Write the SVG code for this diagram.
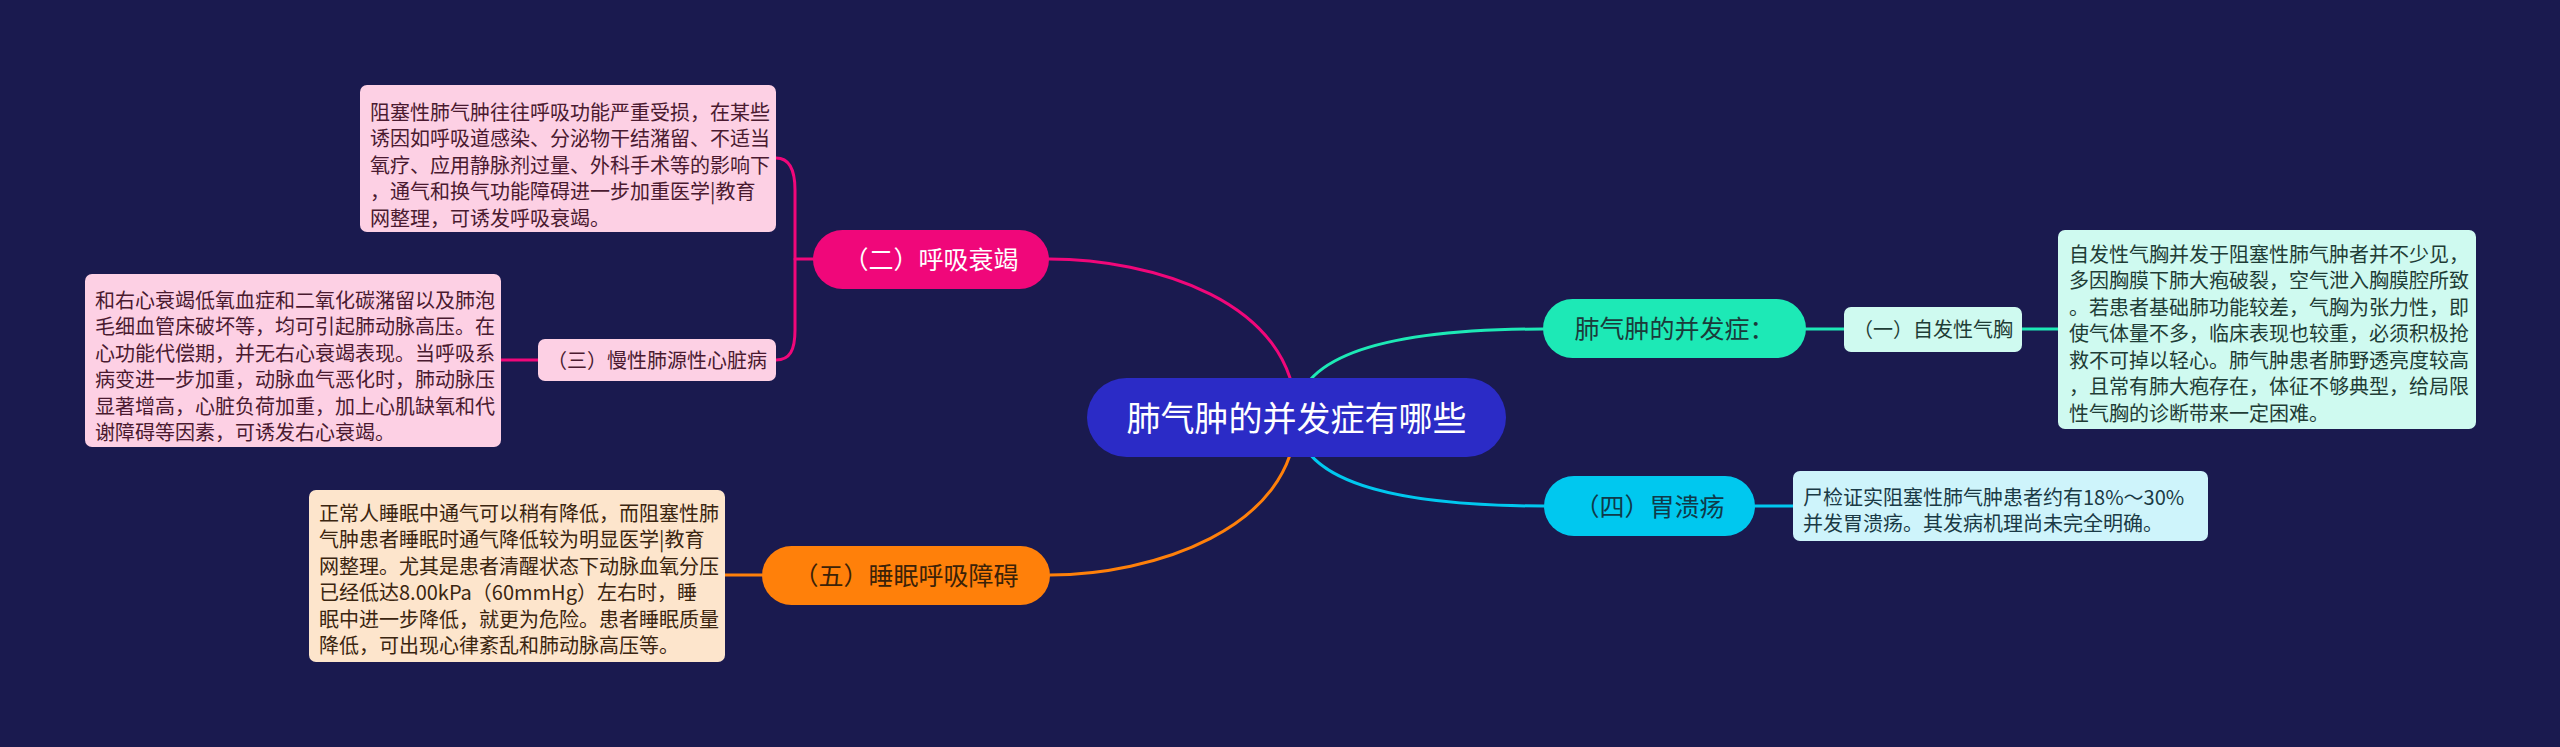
<svg xmlns="http://www.w3.org/2000/svg" width="2560" height="747" viewBox="0 0 2560 747">
<style>
text{font-family:"Noto Sans CJK SC","Noto Sans",sans-serif;}
.l1{font-size:25px;text-anchor:middle;}
.s{font-size:20px;}
.sm{font-size:20px;text-anchor:middle;}
.c{fill:none;stroke-width:3;stroke-linecap:round;}
.pk{stroke:#f0077a;}
.or{stroke:#ff800a;}
.tl{stroke:#1de9b6;}
.bl{stroke:#00c8ef;}
</style>
<rect width="2560" height="747" fill="#1a1a4f"/>
<g id="connectors">
<path class="c pk" d="M1296,417 C1296,300 1150,259 1049,259"/>
<path class="c or" d="M1296,417 C1296,530 1150,575 1050,575"/>
<path class="c tl" d="M1296,417 C1296,345 1420,329 1543,329"/>
<path class="c bl" d="M1296,417 C1296,490 1420,506 1544,506"/>
<path class="c pk" d="M813,259 L795,259"/>
<path class="c pk" d="M776,158 C790,158 795,170 795,190 L795,330 C795,350 790,360 776,360"/>
<path class="c pk" d="M538,360 L501,360"/>
<path class="c or" d="M762,575 L725,575"/>
<path class="c tl" d="M1806,329 L1844,329"/>
<path class="c tl" d="M2022,329 L2058,329"/>
<path class="c bl" d="M1755,506 L1793,506"/>
</g>
<g id="root">
<rect x="1087" y="378" width="419" height="79" rx="39.5" fill="#2b2bc6"/>
<text x="1296.5" y="430.5" font-size="34" text-anchor="middle" fill="#ffffff">肺气肿的并发症有哪些</text>
</g>
<g id="n2">
<rect x="813" y="230" width="236" height="59" rx="29.5" fill="#f0077a"/>
<text class="l1" x="931" y="269" fill="#ffffff">（二）呼吸衰竭</text>
</g>
<g id="n2a">
<rect x="360" y="85" width="416" height="147" rx="7" fill="#fdd0e4"/>
<text class="s" fill="#4a1a30">
<tspan x="370" y="119.6">阻塞性肺气肿往往呼吸功能严重受损，在某些</tspan>
<tspan x="370" y="146.1">诱因如呼吸道感染、分泌物干结潴留、不适当</tspan>
<tspan x="370" y="172.6">氧疗、应用静脉剂过量、外科手术等的影响下</tspan>
<tspan x="370" y="199.1">，通气和换气功能障碍进一步加重医学|教育</tspan>
<tspan x="370" y="225.6">网整理，可诱发呼吸衰竭。</tspan>
</text>
</g>
<g id="n3">
<rect x="538" y="339" width="238" height="42" rx="7" fill="#fdd0e4"/>
<text class="sm" x="657" y="367.6" fill="#4a1a30">（三）慢性肺源性心脏病</text>
</g>
<g id="n3a">
<rect x="85" y="274" width="416" height="173" rx="7" fill="#fdd0e4"/>
<text class="s" fill="#4a1a30">
<tspan x="95" y="307.6">和右心衰竭低氧血症和二氧化碳潴留以及肺泡</tspan>
<tspan x="95" y="334.1">毛细血管床破坏等，均可引起肺动脉高压。在</tspan>
<tspan x="95" y="360.6">心功能代偿期，并无右心衰竭表现。当呼吸系</tspan>
<tspan x="95" y="387.1">病变进一步加重，动脉血气恶化时，肺动脉压</tspan>
<tspan x="95" y="413.6">显著增高，心脏负荷加重，加上心肌缺氧和代</tspan>
<tspan x="95" y="440.1">谢障碍等因素，可诱发右心衰竭。</tspan>
</text>
</g>
<g id="n5">
<rect x="762" y="546" width="288" height="59" rx="29.5" fill="#ff800a"/>
<text class="l1" x="906" y="585" fill="#3b2208">（五）睡眠呼吸障碍</text>
</g>
<g id="n5a">
<rect x="309" y="490" width="416" height="172" rx="7" fill="#fde5cc"/>
<text class="s" fill="#3b2510">
<tspan x="319" y="520.6">正常人睡眠中通气可以稍有降低，而阻塞性肺</tspan>
<tspan x="319" y="547.1">气肿患者睡眠时通气降低较为明显医学|教育</tspan>
<tspan x="319" y="573.6">网整理。尤其是患者清醒状态下动脉血氧分压</tspan>
<tspan x="319" y="600.1">已经低达8.00kPa（60mmHg）左右时，睡</tspan>
<tspan x="319" y="626.6">眠中进一步降低，就更为危险。患者睡眠质量</tspan>
<tspan x="319" y="653.1">降低，可出现心律紊乱和肺动脉高压等。</tspan>
</text>
</g>
<g id="n1">
<rect x="1543" y="299" width="263" height="59" rx="29.5" fill="#1de9b6"/>
<text class="l1" x="1674.5" y="338" fill="#1b3b3b">肺气肿的并发症：</text>
</g>
<g id="n1a">
<rect x="1844" y="307" width="178" height="45" rx="7" fill="#cffaf0"/>
<text class="sm" x="1933" y="337" fill="#1f3d36">（一）自发性气胸</text>
</g>
<g id="n1b">
<rect x="2058" y="230" width="418" height="199" rx="7" fill="#cffaf0"/>
<text class="s" fill="#1f3d36">
<tspan x="2069" y="261.6">自发性气胸并发于阻塞性肺气肿者并不少见，</tspan>
<tspan x="2069" y="288.1">多因胸膜下肺大疱破裂，空气泄入胸膜腔所致</tspan>
<tspan x="2069" y="314.6">。若患者基础肺功能较差，气胸为张力性，即</tspan>
<tspan x="2069" y="341.1">使气体量不多，临床表现也较重，必须积极抢</tspan>
<tspan x="2069" y="367.6">救不可掉以轻心。肺气肿患者肺野透亮度较高</tspan>
<tspan x="2069" y="394.1">，且常有肺大疱存在，体征不够典型，给局限</tspan>
<tspan x="2069" y="420.6">性气胸的诊断带来一定困难。</tspan>
</text>
</g>
<g id="n4">
<rect x="1544" y="476" width="211" height="60" rx="30" fill="#00c8ef"/>
<text class="l1" x="1649.5" y="515.5" fill="#0f3a4a">（四）胃溃疡</text>
</g>
<g id="n4a">
<rect x="1793" y="471" width="415" height="70" rx="7" fill="#cef4fb"/>
<text class="s" fill="#1a3a45">
<tspan x="1803" y="504.6">尸检证实阻塞性肺气肿患者约有18%～30%</tspan>
<tspan x="1803" y="531.1">并发胃溃疡。其发病机理尚未完全明确。</tspan>
</text>
</g>
</svg>
